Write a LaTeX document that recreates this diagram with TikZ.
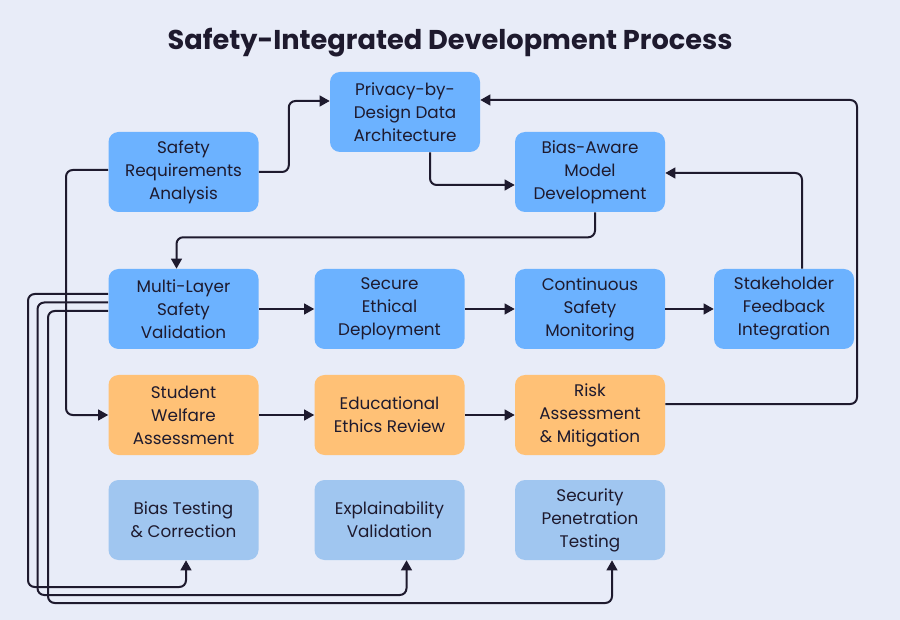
\documentclass[tikz,border=0pt]{standalone}
\usepackage{fontspec}
\setmainfont{Poppins}
\usetikzlibrary{arrows.meta,calc}
\definecolor{bg}{HTML}{E8ECF8}
\definecolor{bluebox}{HTML}{6CB2FF}
\definecolor{orangebox}{HTML}{FFC176}
\definecolor{lightbox}{HTML}{A0C6F0}
\definecolor{ln}{HTML}{1E1A2E}
\begin{document}
\begin{tikzpicture}[x=0.75pt,y=-0.75pt,
  box/.style={rounded corners=7.5pt, minimum width=112.5pt, minimum height=60pt, align=center,
    font=\fontsize{12.6}{17.25}\selectfont, text=ln, inner sep=0pt},
  bb/.style={box, fill=bluebox},
  ob/.style={box, fill=orangebox},
  lb/.style={box, fill=lightbox},
  conn/.style={draw=ln, line width=1.5pt, rounded corners=5pt, -{Triangle[length=7.5pt,width=8pt]}}]
\fill[bg] (0,0) rectangle (900,620);
\useasboundingbox (0,0) rectangle (900,620);
\node[font=\fontsize{20.4}{24}\selectfont\bfseries, text=ln] (title) at (450,42.5) {Safety-Integrated Development Process};

\node[bb] (sra) at (183.5,172) {Safety\\Requirements\\Analysis};
\node[bb] (pda) at (405,112) {Privacy-by-\\Design Data\\Architecture};
\node[bb] (bam) at (590,172) {Bias-Aware\\Model\\Development};
\node[bb] (mlv) at (183.5,309) {Multi-Layer\\Safety\\Validation};
\node[bb] (sed) at (389.5,309) {Secure\\Ethical\\Deployment};
\node[bb] (csm) at (590,309) {Continuous\\Safety\\Monitoring};
\node[bb, minimum width=105pt] (sfi) at (784,309) {Stakeholder\\Feedback\\Integration};
\node[ob] (swa) at (183.5,415) {Student\\Welfare\\Assessment};
\node[ob] (eer) at (389.5,415) {Educational\\Ethics Review};
\node[ob] (ram) at (590,415) {Risk\\Assessment\\\& Mitigation};
\node[lb] (btc) at (183.5,520) {Bias Testing\\\& Correction};
\node[lb] (eva) at (389.5,520) {Explainability\\Validation};
\node[lb] (spt) at (590,520) {Security\\Penetration\\Testing};

\draw[conn] (sra.east) -- ++(30,0) |- ($(pda.west)+(0,-11)$);
\draw[conn] ($(pda.south)+(25,0)$) |- ($(bam.west)+(0,13)$);
\draw[conn] ($(bam.south)+(5,0)$) -- ++(0,25) -| ($(mlv.north)+(-7,0)$);
\draw[conn] (mlv) -- (sed);
\draw[conn] (sed) -- (csm);
\draw[conn] (csm) -- (sfi);
\draw[conn] ($(sfi.north)+(18,0)$) |- ($(bam.east)+(0,1)$);
\draw[conn] ($(ram.east)+(0,-11)$) -- (857,404) |- ($(pda.east)+(0,-12)$);
\draw[conn] ($(sra.west)+(0,-2)$) -- (66,170) |- (swa.west);
\draw[conn] (swa) -- (eer);
\draw[conn] (eer) -- (ram);
\draw[conn] ($(mlv.west)+(0,-15)$) -- (28,294) -- (28,587) -| ($(btc.south)+(2.5,0)$);
\draw[conn] ($(mlv.west)+(0,-6.5)$) -- (37.5,302.5) -- (37.5,595) -| ($(eva.south)+(17,0)$);
\draw[conn] ($(mlv.west)+(0,2)$) -- (48,311) -- (48,603) -| ($(spt.south)+(22,0)$);
\end{tikzpicture}
\end{document}
